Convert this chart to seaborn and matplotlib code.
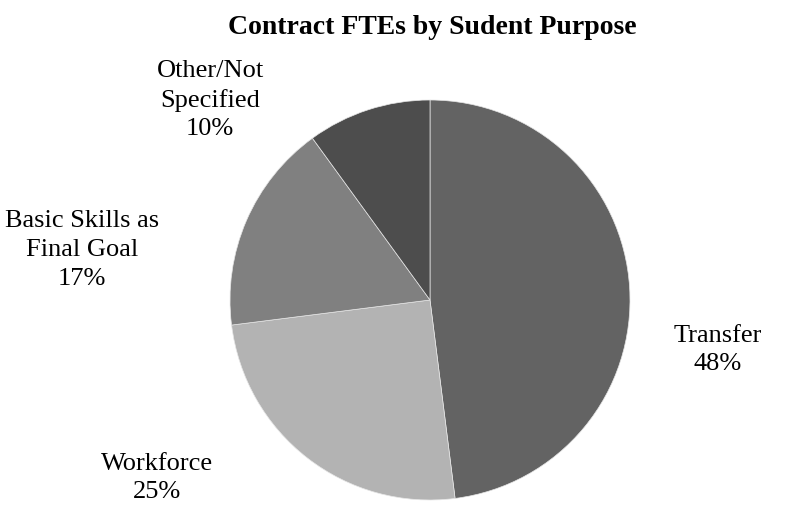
import matplotlib
matplotlib.use("Agg")
import matplotlib.pyplot as plt
import seaborn as sns

# Data
categories = ["Transfer", "Workforce", "Basic Skills as\nFinal Goal", "Other/Not\nSpecified"]
shares = [48, 25, 17, 10]
colors = ["#636363", "#b3b3b3", "#808080", "#4d4d4d"]

sns.set_theme(style="white")
plt.rcParams["font.family"] = ["Liberation Serif", "DejaVu Serif"]
plt.rcParams["text.color"] = "black"

fig = plt.figure(figsize=(7.88, 5.12), dpi=100)
ax = fig.add_axes([230 / 788, 12 / 512, 400 / 788, 400 / 512])

wedges, _ = ax.pie(shares, colors=colors, startangle=90, counterclock=False,
                   wedgeprops=dict(edgecolor="#e6e6e6", linewidth=0.5))
ax.set_xlim(-1, 1)
ax.set_ylim(-1, 1)
ax.set_aspect("equal")

# label positions (pie radius units), Excel "best fit" style
label_pos = [(1.44, -0.25), (-1.365, -0.89), (-1.74, 0.25), (-1.10, 1.0)]
for name, val, (x, y) in zip(categories, shares, label_pos):
    ax.text(x, y, f"{name}\n{val}%", ha="center", va="center", fontsize=19,
            linespacing=1.4, color="black", clip_on=False)

fig.text(432 / 788, 1 - 27 / 512, "Contract FTEs by Sudent Purpose",
         ha="center", va="center", fontsize=20, fontweight="bold", color="black")

fig.savefig("out.png", dpi=100)
